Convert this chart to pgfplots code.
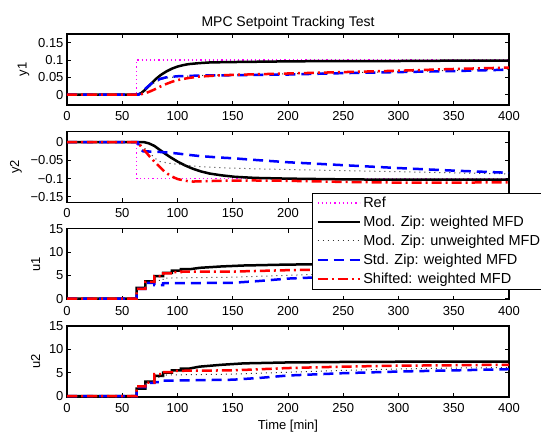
\documentclass[border=0pt]{standalone}
\usepackage{fontspec}
\setmainfont{Liberation Sans}
\usepackage{pgfplots}
\pgfplotsset{compat=1.18}
\definecolor{refmag}{RGB}{255,0,255}

\pgfplotsset{
  mpc/.style={
    scale only axis, width=442pt, height=71pt,
    xmin=0, xmax=400, xtick={0,50,...,400},
    axis line style={line width=1.2pt},
    every tick/.style={black, line width=0.8pt},
    major tick length=4pt,
    tick align=inside,
    /pgf/number format/assume math mode=true,
    tick label style={font=\fontsize{13pt}{15pt}\selectfont},
    label style={font=\fontsize{13pt}{15pt}\selectfont},
    ylabel style={yshift=2pt},
    title style={font=\fontsize{14pt}{16pt}\selectfont, yshift=-5pt},
    xticklabel style={yshift=-3pt},
    legend image code/.code={\draw[##1] (0pt,0pt) -- (42pt,0pt);},
  },
  refl/.style={color=refmag, line width=1.2pt, dash pattern=on 1.2pt off 3pt},
  modw/.style={black, line width=2.5pt},
  modu/.style={black!80, line width=1pt, dash pattern=on 1pt off 4pt},
  stdw/.style={blue, line width=2.5pt, dash pattern=on 10pt off 6pt},
  shf/.style={red, line width=2.5pt, dash pattern=on 10pt off 4pt on 2pt off 4pt},
}

\begin{document}
\begin{tikzpicture}
\useasboundingbox (0pt,0pt) rectangle (541pt,432pt);

% y1
\begin{axis}[mpc, at={(67pt,327pt)}, anchor=south west,
    ymin=-0.03, ymax=0.175, ytick={0,0.05,0.1,0.15},
    yticklabels={0,0.05,0.1,0.15}, ylabel={y1},
    title={MPC Setpoint Tracking Test}]
\addplot[refl] coordinates {(0,0)(63,0)(63,0.1)(400,0.1)};
\addplot[modw] coordinates {(0,0)(64,0)(67,0.004)(70,0.012)(75,0.028)(80,0.044)(85,0.057)(90,0.067)(95,0.075)(100,0.081)(105,0.085)(110,0.088)(120,0.091)(130,0.093)(150,0.094)(175,0.095)(200,0.096)(250,0.097)(300,0.097)(350,0.098)(400,0.098)};
\addplot[modu] coordinates {(0,0)(64,0)(68,0.006)(72,0.016)(76,0.027)(80,0.036)(85,0.043)(90,0.048)(100,0.052)(120,0.055)(150,0.057)(200,0.060)(250,0.063)(300,0.066)(350,0.070)(400,0.074)};
\addplot[stdw] coordinates {(0,0)(65,0)(68,0.008)(72,0.020)(76,0.031)(80,0.039)(85,0.046)(90,0.050)(100,0.053)(120,0.055)(150,0.056)(200,0.058)(250,0.062)(300,0.065)(350,0.068)(400,0.072)};
\addplot[shf] coordinates {(0,0)(65,0)(70,0.003)(75,0.009)(80,0.016)(85,0.024)(90,0.031)(95,0.037)(100,0.042)(110,0.048)(120,0.052)(135,0.055)(150,0.057)(200,0.061)(250,0.065)(300,0.069)(350,0.074)(400,0.078)};
\end{axis}

% y2
\begin{axis}[mpc, at={(67pt,229.7pt)}, anchor=south west,
    ymin=-0.165, ymax=0.03, ytick={-0.15,-0.1,-0.05,0},
    yticklabels={−0.15,−0.1,−0.05,0}, ylabel={y2}]
\addplot[refl] coordinates {(0,0)(63,0)(63,-0.1)(400,-0.1)};
\addplot[modw] coordinates {(0,0)(70,0)(74,-0.003)(79,-0.010)(84,-0.021)(88,-0.030)(94,-0.042)(100,-0.053)(107,-0.064)(114,-0.073)(121,-0.080)(129,-0.086)(140,-0.091)(152,-0.095)(170,-0.098)(200,-0.100)(250,-0.102)(300,-0.103)(350,-0.103)(400,-0.103)};
\addplot[modu] coordinates {(0,0)(64,0)(68,-0.010)(72,-0.022)(76,-0.033)(80,-0.045)(84,-0.053)(95,-0.059)(108,-0.063)(120,-0.067)(138,-0.070)(170,-0.073)(200,-0.075)(250,-0.078)(300,-0.081)(350,-0.084)(400,-0.087)};
\addplot[stdw] coordinates {(0,0)(64,0)(66,-0.018)(69,-0.025)(80,-0.026)(90,-0.028)(100,-0.031)(108,-0.034)(120,-0.038)(138,-0.042)(150,-0.044)(167,-0.048)(200,-0.055)(250,-0.063)(300,-0.071)(350,-0.078)(400,-0.084)};
\addplot[shf] coordinates {(0,0)(64,0)(67,-0.012)(70,-0.022)(75,-0.040)(79,-0.053)(84,-0.068)(88,-0.080)(94,-0.093)(100,-0.101)(107,-0.106)(114,-0.108)(125,-0.107)(138,-0.106)(167,-0.105)(200,-0.106)(250,-0.109)(300,-0.111)(350,-0.111)(400,-0.110)};
\end{axis}

% u1
\begin{axis}[mpc, at={(67pt,132.4pt)}, anchor=south west,
    ymin=-0.2, ymax=15, ytick={0,5,10,15}, ylabel={u1}]
\addplot[modw] coordinates {(0,0)(63,0)(63,2.3)(71,2.3)(71,3.7)(79,3.7)(79,4.8)(87,4.8)(87,5.5)(95,5.5)(95,6.0)(103,6.0)(103,6.3)(111,6.3)(120,6.6)(140,6.9)(160,7.1)(200,7.3)(250,7.4)(300,7.45)(350,7.5)(400,7.5)};
\addplot[modu] coordinates {(0,0)(63,0)(63,2.1)(71,2.1)(71,3.5)(79,3.5)(79,3.9)(87,3.9)(87,4.4)(150,4.6)(200,5.0)(250,5.4)(300,5.8)(350,6.0)(400,6.2)};
\addplot[stdw] coordinates {(0,0)(63,0)(63,2.1)(71,2.1)(71,3.4)(79,3.4)(79,2.9)(87,2.9)(87,3.3)(150,3.4)(175,3.8)(200,4.3)(250,4.8)(300,5.2)(350,5.5)(400,5.7)};
\addplot[shf] coordinates {(0,0)(63,0)(63,2.1)(71,2.1)(71,3.6)(79,3.6)(79,4.8)(87,4.8)(87,5.4)(95,5.4)(95,5.7)(103,5.7)(103,5.8)(150,5.8)(200,6.1)(250,6.3)(300,6.5)(350,6.7)(400,6.8)};
\end{axis}

% u2
\begin{axis}[mpc, at={(67pt,35pt)}, anchor=south west,
    ymin=-0.2, ymax=15, ytick={0,5,10,15}, ylabel={u2},
    xlabel={Time [min]},
    legend style={at={(0.554,2.88)}, anchor=north west, draw=black,
      line width=0.8pt, fill=white,
      font=\fontsize{14.5pt}{17pt}\selectfont,
      inner xsep=4pt, inner ysep=3pt, row sep=5pt,
      nodes={inner xsep=2.5pt, inner ysep=1pt},
      cells={anchor=west}}]
\addplot[refl] coordinates {(0,-1)(400,-1)};
\addlegendentry{Ref}
\addplot[modw] coordinates {(0,0)(63,0)(63,1.6)(71,1.6)(71,3.1)(79,3.1)(79,4.3)(87,4.3)(87,5.0)(95,5.0)(95,5.5)(103,5.5)(103,5.9)(111,5.9)(120,6.3)(140,6.7)(160,7.0)(200,7.2)(250,7.3)(300,7.35)(350,7.4)(400,7.4)};
\addlegendentry{Mod. Zip: weighted MFD}
\addplot[modu] coordinates {(0,0)(63,0)(63,2.0)(71,2.0)(71,3.2)(79,3.2)(79,4.0)(87,4.0)(87,4.5)(150,4.7)(200,5.1)(250,5.5)(300,5.8)(350,6.0)(400,6.1)};
\addlegendentry{Mod. Zip: unweighted MFD}
\addplot[stdw] coordinates {(0,0)(63,0)(63,1.9)(71,1.9)(71,2.8)(79,2.8)(79,3.0)(87,3.0)(87,3.3)(150,3.5)(175,3.9)(200,4.4)(250,4.9)(300,5.25)(350,5.5)(400,5.75)};
\addlegendentry{Std. Zip: weighted MFD}
\addplot[shf] coordinates {(0,0)(63,0)(63,2.1)(71,2.1)(71,2.9)(79,2.9)(79,4.7)(87,4.7)(87,5.1)(95,5.1)(95,5.4)(150,5.5)(200,6.0)(250,6.3)(300,6.5)(350,6.6)(400,6.7)};
\addlegendentry{Shifted: weighted MFD}
\end{axis}
\end{tikzpicture}
\end{document}
